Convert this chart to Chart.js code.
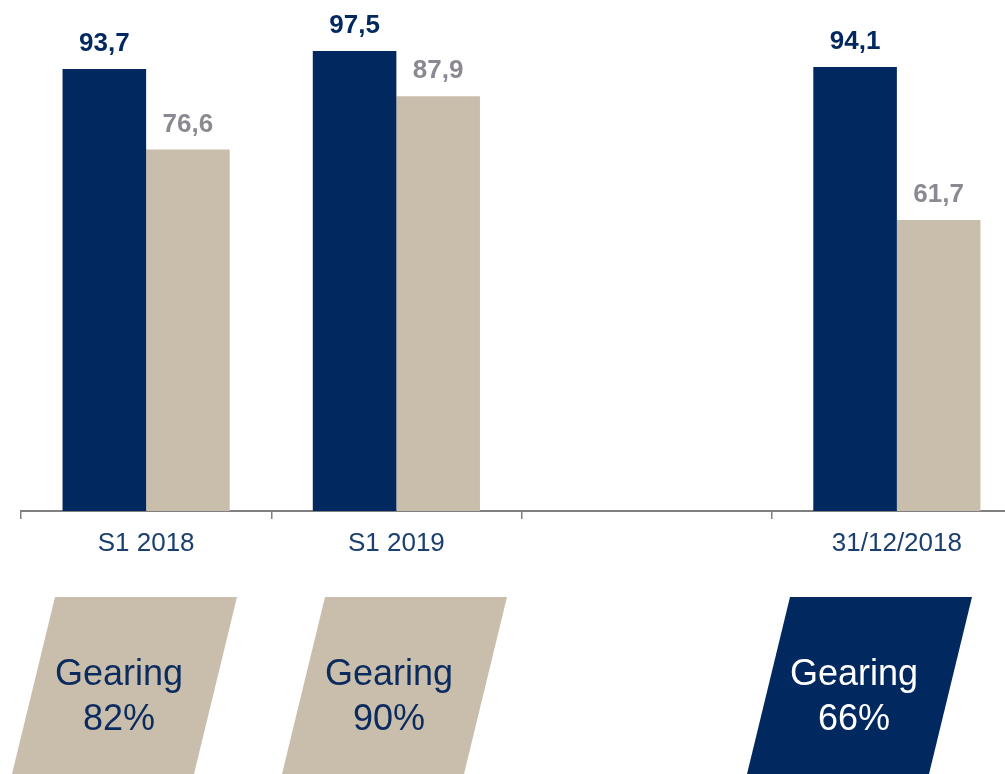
<!DOCTYPE html>
<html>
<head>
<meta charset="utf-8">
<script src="https://cdn.jsdelivr.net/npm/chart.js@4.4.1/dist/chart.umd.min.js"></script>
<style>
    body { margin: 0; background: #fff; overflow: hidden; }
</style>
</head>
<body>
<canvas id="barchart" width="1040" height="774"></canvas>
<script>
const categories = ["S1 2018", "S1 2019", "", "31/12/2018"];
const seriesNavy = [93.7, 97.5, null, 94.1];
const seriesBeige = [76.6, 87.9, null, 61.7];
const gearing = ["82%", "90%", null, "66%"];
const gearingHighlight = [false, false, false, true];

const NAVY = '#01295f';
const BEIGE = '#c9beac';
const GREY_LABEL = '#8c8892';
const FONT = '"Liberation Sans", Arial, sans-serif';

// left edge (top) of each gearing box
const boxLeft = [55, 325, null, 790];

const fmt = v => v.toFixed(1).replace('.', ',');

const valueLabels = {
    id: 'valueLabels',
    afterDatasetsDraw(chart) {
        const ctx = chart.ctx;
        ctx.save();
        ctx.font = 'bold 26px ' + FONT;
        ctx.textAlign = 'center';
        ctx.textBaseline = 'middle';
        chart.data.datasets.forEach((ds, di) => {
            const meta = chart.getDatasetMeta(di);
            meta.data.forEach((bar, i) => {
                if (ds.data[i] == null) return;
                ctx.fillStyle = di === 0 ? NAVY : GREY_LABEL;
                ctx.fillText(fmt(ds.data[i]), bar.x, bar.y - 25);
            });
        });
        ctx.restore();
    }
};

const gearingBoxes = {
    id: 'gearingBoxes',
    afterDraw(chart) {
        const ctx = chart.ctx;
        const top = 597, bottom = 774, w = 182, slant = 43;
        ctx.save();
        gearing.forEach((g, i) => {
            if (g == null) return;
            const x = boxLeft[i];
            ctx.fillStyle = gearingHighlight[i] ? NAVY : BEIGE;
            ctx.beginPath();
            ctx.moveTo(x, top);
            ctx.lineTo(x + w, top);
            ctx.lineTo(x + w - slant, bottom);
            ctx.lineTo(x - slant, bottom);
            ctx.closePath();
            ctx.fill();
            ctx.fillStyle = gearingHighlight[i] ? '#ffffff' : '#0b2b5f';
            ctx.font = '36px ' + FONT;
            ctx.textAlign = 'center';
            ctx.textBaseline = 'middle';
            ctx.fillText('Gearing', x + 64, 675);
            ctx.fillText(g, x + 64, 720);
        });
        ctx.restore();
    }
};

new Chart(document.getElementById('barchart'), {
    type: 'bar',
    data: {
        labels: categories,
        datasets: [
            {
                data: seriesNavy,
                backgroundColor: NAVY,
                borderWidth: 0,
                categoryPercentage: 0.668,
                barPercentage: 1,
            },
            {
                data: seriesBeige,
                backgroundColor: BEIGE,
                borderWidth: 0,
                categoryPercentage: 0.668,
                barPercentage: 1,
            },
        ],
    },
    plugins: [valueLabels, gearingBoxes],
    options: {
        responsive: false,
        animation: false,
        devicePixelRatio: 1,
        layout: {
            padding: { left: 21, right: 18, top: 0, bottom: 0 }
        },
        scales: {
            x: {
                grid: {
                    drawOnChartArea: false,
                    drawTicks: true,
                    tickLength: 8,
                    color: '#808080',
                    lineWidth: 1.5,
                },
                border: {
                    display: true,
                    color: '#808080',
                    width: 2,
                },
                ticks: {
                    color: '#1b3f6f',
                    font: { family: FONT, size: 26 },
                    padding: 9,
                    maxRotation: 0,
                },
                afterFit: function (scale) {
                    scale.height = 263;
                }
            },
            y: {
                display: false,
                min: 0,
                max: 108.3,
            },
        },
        plugins: {
            legend: { display: false },
            tooltip: { enabled: false }
        }
    }
});
</script>
</body>
</html>
